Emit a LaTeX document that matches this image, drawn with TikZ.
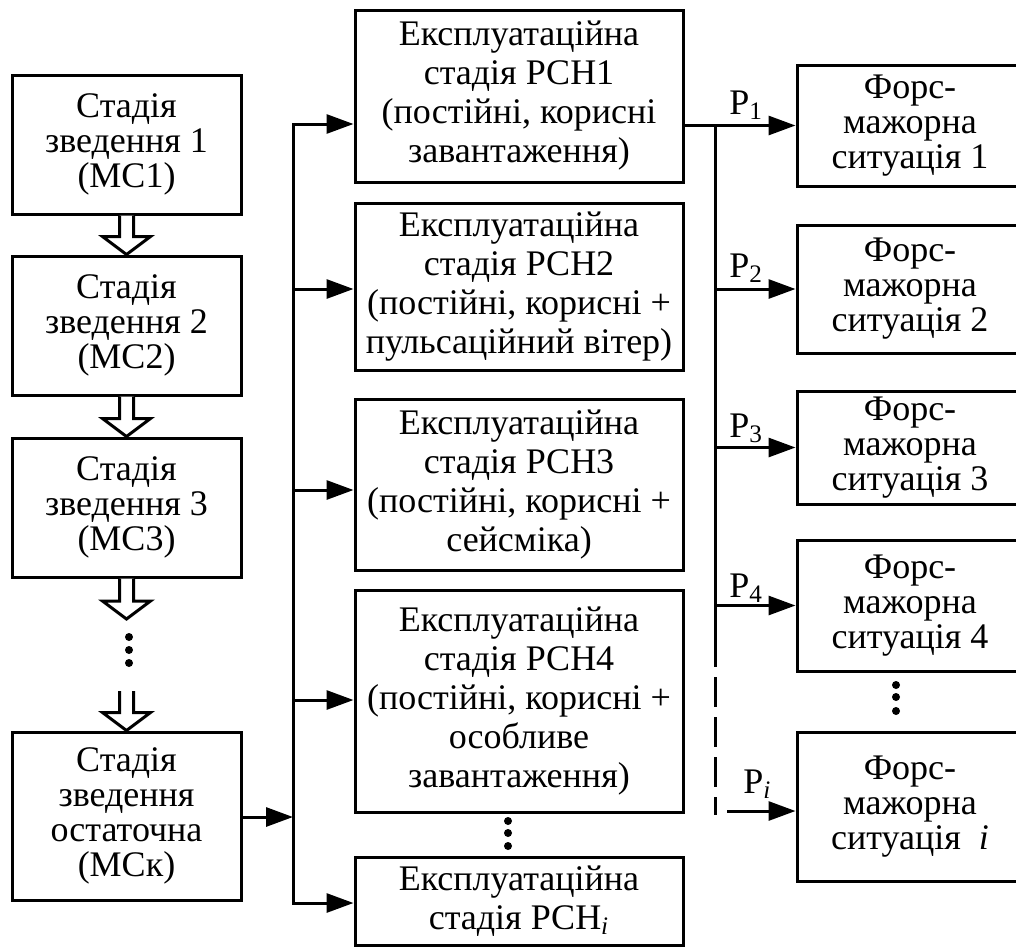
\documentclass[tikz,border=0pt]{standalone}
\usepackage{fontspec}
\setmainfont{Liberation Serif}
\usepackage{tikz}
\usetikzlibrary{calc,arrows.meta}
% hollow block arrow between two points
\newcommand{\hollowarrow}[2]{%
  \draw[hollow] let \p1=(#1), \p2=(#2) in
    (\x1-3.5pt,\y1)--(\x1-3.5pt,\y2+9pt)--(\x1-12pt,\y2+9pt)--(\x1,\y2)
    --(\x1+12pt,\y2+9pt)--(\x1+3.5pt,\y2+9pt)--(\x1+3.5pt,\y1);}

\begin{document}
\begin{tikzpicture}[x=0.5pt,y=-0.5pt,>={Triangle[length=13.5pt,width=9.5pt]},
  box/.style={draw,line width=1.5pt,align=center,inner sep=1pt,
    font=\fontsize{18}{17.5}\selectfont},
  stagebox/.style={box,minimum width=114.5pt},
  loadbox/.style={box,minimum width=164pt,font=\fontsize{18}{19.5}\selectfont},
  fmbox/.style={box,minimum width=113pt},
  arr/.style={->,line width=1.5pt},
  hollow/.style={line width=1.5pt,line join=miter,fill=white},
  plabel/.style={inner sep=0pt,anchor=base west,font=\fontsize{18}{18}\selectfont}]
  \clip (0,0) rectangle (1016,948);
  % Construction stages
  \node[stagebox,minimum height=69.5pt] (s1) at (126.5,144.5) {Стадія\\зведення 1\\(МС1)};
  \node[stagebox,minimum height=69.5pt] (s2) at (126.5,325.5) {Стадія\\зведення 2\\(МС2)};
  \node[stagebox,minimum height=69.5pt] (s3) at (126.5,507.5) {Стадія\\зведення 3\\(МС3)};
  \node[stagebox,minimum height=84pt] (sk) at (126.5,816) {Стадія\\зведення\\остаточна\\(МСк)};
  \coordinate (d1) at (126.5,619);
  \coordinate (d2) at (126.5,691);
  \hollowarrow{s1.south}{s2.north}
  \hollowarrow{s2.south}{s3.north}
  \hollowarrow{s3.south}{d1}
  \hollowarrow{d2}{sk.north}
  \foreach \y in {637,650,663} \fill (129,\y) circle (2pt);
  % Operation stages
  \node[loadbox,minimum height=86pt] (m1) at (519,96)
    {Експлуатаційна\\стадія РСН1\\(постійні, корисні\\завантаження)};
  \node[loadbox,minimum height=83.5pt] (m2) at (519,286.5)
    {Експлуатаційна\\стадія РСН2\\(постійні, корисні +\\пульсаційний вітер)};
  \node[loadbox,minimum height=85.5pt] (m3) at (519,484.5)
    {Експлуатаційна\\стадія РСН3\\(постійні, корисні +\\сейсміка)};
  \node[loadbox,minimum height=111pt] (m4) at (519,701)
    {Експлуатаційна\\стадія РСН4\\(постійні, корисні +\\особливе\\завантаження)};
  \node[loadbox,minimum height=44pt] (mi) at (519,901)
    {Експлуатаційна\\стадія РСН\textsubscript{\textit{i}}};
  \foreach \y in {821,833,846} \fill (508,\y) circle (2pt);
  % Distribution bus
  \coordinate (j1) at (293,124);
  \coordinate (j2) at (293,289);
  \coordinate (j3) at (293,490);
  \coordinate (j4) at (293,700);
  \coordinate (j5) at (293,903);
  \coordinate (jk) at (293,817);
  \draw[line width=1.5pt,line cap=rect] (j1)--(j5);
  \draw[arr] (sk.east |- jk)--(jk);
  \foreach \j/\m in {j1/m1,j2/m2,j3/m3,j4/m4,j5/mi}
    \draw[arr] (\j)--(\j -| \m.west);
  % Force majeure situations
  \node[fmbox,minimum height=60.5pt] (f1) at (910,125.5) {Форс-\\мажорна\\ситуація 1};
  \node[fmbox,minimum height=64pt] (f2) at (910,289) {Форс-\\мажорна\\ситуація 2};
  \node[fmbox,minimum height=56.5pt] (f3) at (910,447.5) {Форс-\\мажорна\\ситуація 3};
  \node[fmbox,minimum height=65.5pt] (f4) at (910,605.5) {Форс-\\мажорна\\ситуація 4};
  \node[fmbox,minimum height=74.5pt] (fi) at (910,806.5) {Форс-\\мажорна\\ситуація~~\textit{i}};
  \foreach \y in {685,697,711} \fill (896,\y) circle (2pt);
  \coordinate (r1) at (715,125);
  \coordinate (r2) at (715,667);
  \coordinate (r3) at (715,677);
  \coordinate (r4) at (715,815);
  \draw[arr] (f1.west -| m1.east)--(f1.west);
  \draw[line width=1.5pt] (r1)--(r2);
  \draw[line width=1.5pt,dash pattern=on 15pt off 5pt] (r3)--(r4);
  \foreach \f in {f2,f3,f4}
    \draw[arr] (\f.west -| r1)--(\f.west);
  \coordinate (pi) at (727,811);
  \draw[arr] (pi)--(pi -| fi.west);
  % Probabilities
  \node[plabel] (p1) at (729,114) {P\textsubscript{1}};
  \node[plabel] (p2) at (729,277) {P\textsubscript{2}};
  \node[plabel] (p3) at (729,437) {P\textsubscript{3}};
  \node[plabel] (p4) at (729,597) {P\textsubscript{4}};
  \node[plabel] (p5) at (743,793) {P\textsubscript{\textit{i}}};
\end{tikzpicture}
\end{document}
